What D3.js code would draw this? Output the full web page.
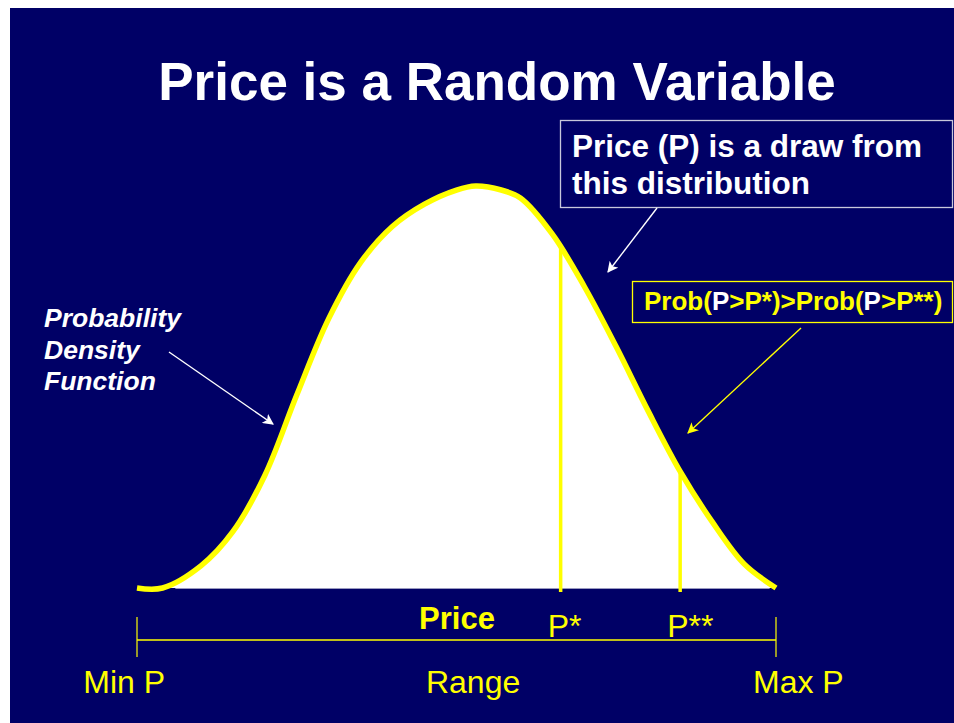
<!DOCTYPE html>
<html><head><meta charset="utf-8">
<script src="https://cdn.jsdelivr.net/npm/d3@7"></script>
<style>html,body{margin:0;padding:0;background:#fff;overflow:hidden}</style>
</head><body><svg id="c" width="954" height="723"></svg>
<script>
// ---- data ----
const title = "Price is a Random Variable";
const prices  = [0, 4, 10, 15, 20, 25, 30, 35, 40, 45, 50, 53, 57, 60, 65, 70, 75, 80, 85, 90, 95, 100];
const density = [0, 0, 0.055, 0.14, 0.28, 0.48, 0.67, 0.81, 0.90, 0.955, 0.99, 1.0, 0.99, 0.97, 0.88, 0.75, 0.60, 0.44, 0.29, 0.165, 0.06, 0];
const markerLabels = ["P*", "P**"];
const markerPrices = [66.3, 85];
const rangeLabels = ["Min P", "Range", "Max P"];
const rangePrices = [-2, 52.6, 103.5];
const axisTitle = "Price";
const callout1 = ["Price (P) is a draw from", "this distribution"];
const callout2Parts = ["Prob(", "P", ">P*)>Prob(", "P", ">P**)"];
const callout2Colors = ["#ffff00", "#ffffff", "#ffff00", "#ffffff", "#ffff00"];
const pdfLabel = ["Probability", "Density", "Function"];

const NAVY = "#000066", YEL = "#ffff00", WHITE = "#ffffff";
const FONT = "'Liberation Sans', Arial, Helvetica, sans-serif";

const svg = d3.select("#c");
svg.append("rect").attr("x", 10).attr("y", 8).attr("width", 944).attr("height", 715).attr("fill", NAVY);

const defs = svg.append("defs");
function marker(id, color) {
  defs.append("marker").attr("id", id).attr("viewBox", "0 0 10 10").attr("refX", 9).attr("refY", 5)
    .attr("markerWidth", 11).attr("markerHeight", 11).attr("markerUnits", "userSpaceOnUse")
    .attr("orient", "auto")
    .append("path").attr("d", "M0,0 L10,5 L0,10 L2.5,5 Z").attr("fill", color);
}
marker("aw", WHITE); marker("ay", YEL);

// title
svg.append("text").attr("x", 497).attr("y", 100).attr("text-anchor", "middle")
  .attr("font-family", FONT).attr("font-weight", "bold").attr("font-size", 53)
  .attr("fill", WHITE).text(title);

// scales
const x = d3.scaleLinear().domain([0, 100]).range([137, 776]);
const y = d3.scaleLinear().domain([0, 1]).range([588, 186]);
const pts = prices.map((p, i) => ({p, d: density[i]}));
const cv = d3.curveCatmullRom.alpha(0.5);

const area = d3.area().x(d => x(d.p)).y0(y(0)).y1(d => Math.min(y(0), y(d.d))).curve(cv);
const line = d3.line().x(d => x(d.p)).y(d => y(d.d)).curve(cv);

svg.append("path").datum(pts).attr("d", area).attr("fill", WHITE);
svg.append("line").attr("x1", x(6)).attr("x2", x(99)).attr("y1", y(0) + 0.5).attr("y2", y(0) + 0.5)
  .attr("stroke", "#9a9ac0").attr("stroke-width", 1);

const markerG = svg.append("g");
const curve = svg.append("path").datum(pts).attr("d", line).attr("fill", "none")
  .attr("stroke", YEL).attr("stroke-width", 5.5).attr("stroke-linejoin", "round");

// find curve y at given pixel x
const node = curve.node();
const L = node.getTotalLength();
function yAt(px) {
  let lo = 0, hi = L;
  for (let k = 0; k < 40; k++) {
    const mid = (lo + hi) / 2;
    if (node.getPointAtLength(mid).x < px) lo = mid; else hi = mid;
  }
  return node.getPointAtLength((lo + hi) / 2).y;
}

// marker lines
markerPrices.forEach((mp, i) => {
  const px = x(mp);
  markerG.append("line")
    .attr("x1", px).attr("x2", px).attr("y1", yAt(px)).attr("y2", y(0) + 4)
    .attr("stroke", YEL).attr("stroke-width", 3.5);
  svg.append("text").attr("x", px - 13).attr("y", 637)
    .attr("font-family", FONT).attr("font-size", 32).attr("fill", YEL).text(markerLabels[i]);
});

// axis title
svg.append("text").attr("x", 457).attr("y", 629).attr("text-anchor", "middle")
  .attr("font-family", FONT).attr("font-weight", "bold").attr("font-size", 31)
  .attr("fill", YEL).text(axisTitle);

// range bracket
const ry = 640;
svg.append("line").attr("x1", x(0)).attr("x2", x(100)).attr("y1", ry).attr("y2", ry)
  .attr("stroke", YEL).attr("stroke-width", 1.5);
[0, 100].forEach(v => {
  svg.append("line").attr("x1", x(v)).attr("x2", x(v)).attr("y1", ry - 23).attr("y2", ry + 17)
    .attr("stroke", YEL).attr("stroke-width", 1.2);
});
rangeLabels.forEach((t, i) => {
  svg.append("text").attr("x", x(rangePrices[i])).attr("y", 693).attr("text-anchor", "middle")
    .attr("font-family", FONT).attr("font-size", 32).attr("fill", YEL).text(t);
});

// callout 1
svg.append("rect").attr("x", 560.5).attr("y", 120.5).attr("width", 392).attr("height", 87)
  .attr("fill", "none").attr("stroke", "#c8c8dc").attr("stroke-width", 1.3);
callout1.forEach((t, i) => {
  svg.append("text").attr("x", 572).attr("y", 157 + i * 37)
    .attr("font-family", FONT).attr("font-weight", "bold").attr("font-size", 31.5)
    .attr("fill", WHITE).text(t);
});
svg.append("line").attr("x1", 657).attr("y1", 208).attr("x2", 608).attr("y2", 272)
  .attr("stroke", WHITE).attr("stroke-width", 1.4).attr("marker-end", "url(#aw)");

// callout 2
svg.append("rect").attr("x", 632.5).attr("y", 281.5).attr("width", 320).attr("height", 41)
  .attr("fill", "none").attr("stroke", YEL).attr("stroke-width", 1.3);
const t2 = svg.append("text").attr("x", 644).attr("y", 310)
  .attr("font-family", FONT).attr("font-weight", "bold").attr("font-size", 26);
callout2Parts.forEach((s, i) => t2.append("tspan").attr("fill", callout2Colors[i]).text(s));
svg.append("line").attr("x1", 801).attr("y1", 328).attr("x2", 688).attr("y2", 433)
  .attr("stroke", YEL).attr("stroke-width", 1.4).attr("marker-end", "url(#ay)");

// pdf label
pdfLabel.forEach((t, i) => {
  svg.append("text").attr("x", 44).attr("y", 327 + i * 31.5)
    .attr("font-family", FONT).attr("font-weight", "bold").attr("font-style", "italic")
    .attr("font-size", 26.5).attr("fill", WHITE).text(t);
});
svg.append("line").attr("x1", 169).attr("y1", 352).attr("x2", 273).attr("y2", 424)
  .attr("stroke", WHITE).attr("stroke-width", 1.4).attr("marker-end", "url(#aw)");
</script></body></html>
